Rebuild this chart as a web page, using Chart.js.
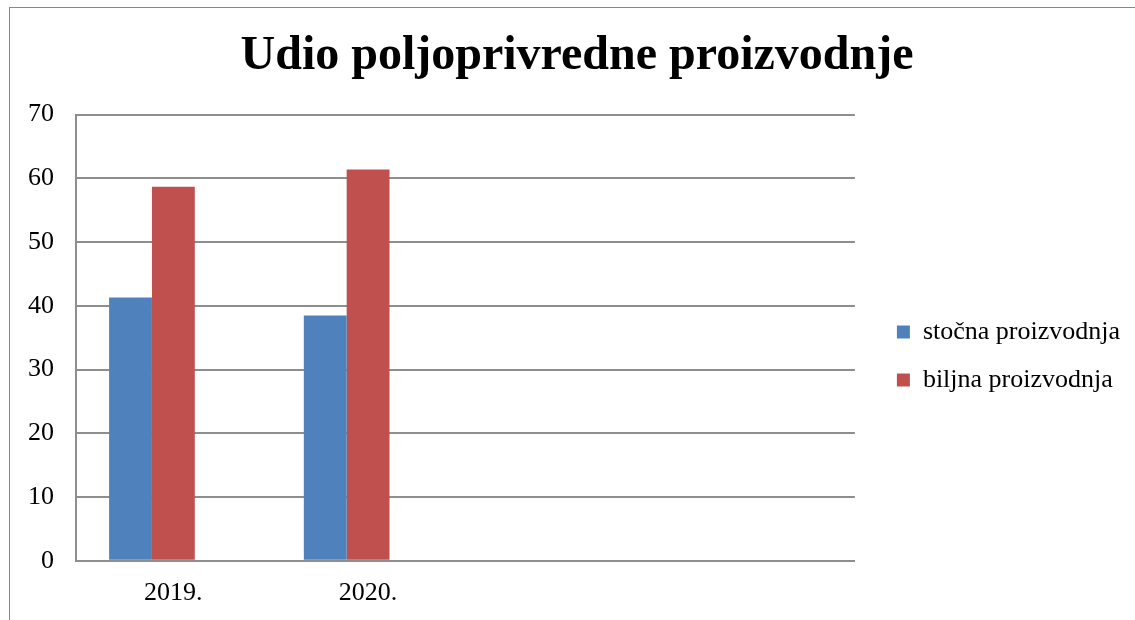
<!DOCTYPE html>
<html>
<head>
<meta charset="utf-8">
<script src="https://cdn.jsdelivr.net/npm/chart.js@4/dist/chart.umd.min.js"></script>
<style>
  html, body { margin: 0; padding: 0; background: #fff; }
  #frame {
    position: absolute; left: 9px; top: 7px; width: 1126px; height: 613px;
    border-top: 1px solid #878787; border-left: 1px solid #878787;
    box-sizing: border-box;
  }
  canvas { display: block; }
</style>
</head>
<body>
<div id="frame"><canvas id="chart" width="1125" height="612"></canvas></div>
<script>
const categories = ['2019.', '2020.', '', ''];
const stocna = [41.3, 38.5, null, null];
const biljna = [58.7, 61.4, null, null];
// third series slot is empty in the source chart
const prazno = [null, null, null, null];
const yTicks = [0, 10, 20, 30, 40, 50, 60, 70];

const serif = "'Liberation Serif', 'Times New Roman', serif";
const gridColor = '#8e8e8e';

new Chart(document.getElementById('chart'), {
    type: 'bar',
    data: {
        labels: categories,
        datasets: [
            { label: 'stočna proizvodnja', data: stocna, backgroundColor: '#4F81BD' },
            { label: 'biljna proizvodnja', data: biljna, backgroundColor: '#C0504D' },
            { label: '', data: prazno, backgroundColor: '#9BBB59' }
        ]
    },
    options: {
        responsive: false,
        animation: false,
        layout: { padding: { left: 14, right: 5, bottom: -6 } },
        datasets: {
            bar: { categoryPercentage: 0.66, barPercentage: 1.0 }
        },
        plugins: {
            title: {
                display: true,
                text: 'Udio poljoprivredne proizvodnje',
                color: '#000',
                font: { family: serif, size: 48, weight: 'bold' },
                padding: { top: 20, bottom: 29 }
            },
            legend: {
                position: 'right',
                maxWidth: 300,
                // empty title only pushes the two items down
                title: { display: true, text: ' ', font: { size: 10 }, padding: { top: 66, bottom: 0 } },
                labels: {
                    color: '#000',
                    boxWidth: 13,
                    boxHeight: 13,
                    padding: 22,
                    font: { family: serif, size: 26 },
                    filter: item => item.text !== ''
                }
            },
            tooltip: { enabled: false }
        },
        scales: {
            x: {
                grid: { display: false, drawTicks: false },
                border: { color: gridColor, width: 2 },
                ticks: { color: '#000', padding: 17, font: { family: serif, size: 26 } }
            },
            y: {
                min: 0,
                max: 70,
                afterBuildTicks: axis => { axis.ticks = yTicks.map(v => ({ value: v })); },
                afterFit: axis => { axis.width -= 18; },
                grid: { color: gridColor, lineWidth: 2, drawTicks: false },
                border: { color: gridColor, width: 2 },
                ticks: { color: '#000', padding: 22, font: { family: serif, size: 26 } }
            },
            // blank gap between plot and legend
            gap: {
                type: 'linear',
                position: 'right',
                ticks: { display: false },
                grid: { display: false },
                border: { display: false },
                afterFit: axis => { axis.width = 20; }
            }
        }
    }
});
</script>
</body>
</html>
